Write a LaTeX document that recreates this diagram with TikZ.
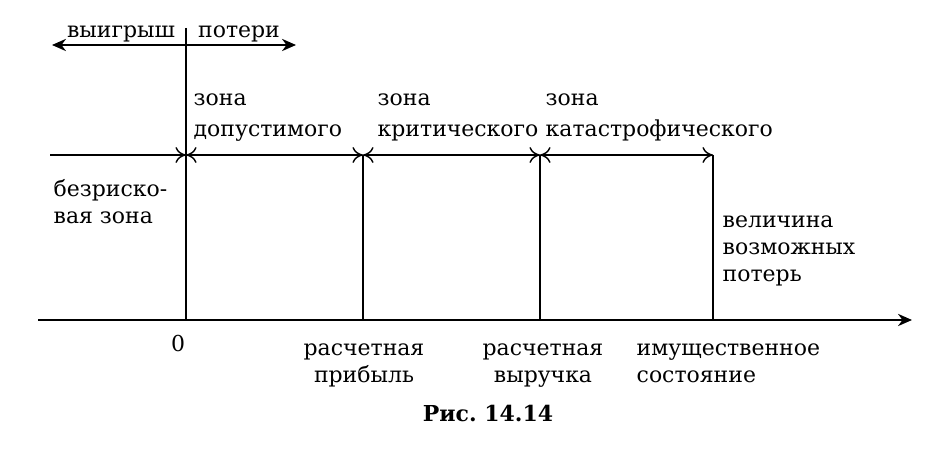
\documentclass[tikz,border=0pt]{standalone}
\usepackage{fontspec}
\setmainfont{DejaVu Serif}
\usetikzlibrary{arrows.meta}
\begin{document}
\begin{tikzpicture}[x=0.02cm,y=-0.02cm,line join=round,>={Stealth[length=8pt,width=7pt]},thick]
	\tikzset{lbl/.style={inner sep=0pt,align=left,font=\fontsize{12.5}{18.2}\selectfont},
		tight/.style={font=\fontsize{12.5}{15.6}\selectfont},
		barb/.tip={To[length=6pt,width=9pt]},
		zone/.style={barb-barb}}
	\useasboundingbox (0,0) rectangle (948,452);
	% points
	\coordinate (wl) at (52,45); \coordinate (wr) at (296,45);
	\coordinate (top) at (186,28);
	\coordinate (m0) at (50,155);
	\foreach \n/\x in {a/186,b/363,c/540,d/713}
	{\coordinate (m\n) at (\x,155); \coordinate (x\n) at (\x,320);}
	\coordinate (ax0) at (38,320); \coordinate (ax1) at (912,320);
	% lines
	\draw[<->] (wl)--(wr);
	\draw (top)--(xa) (mb)--(xb) (mc)--(xc) (md)--(xd);
	\draw[-barb] (m0)--(ma);
	\draw[zone] (ma)--(mb); \draw[zone] (mb)--(mc); \draw[zone] (mc)--(md);
	\draw[->] (ax0)--(ax1);
	% texts
	\node[lbl,anchor=base] (win) at (121,38) {выигрыш};
	\node[lbl,anchor=base] (loss) at (239,38) {потери};
	\node[lbl,anchor=base west] (zdop) at (193,137) {зона\\допустимого};
	\node[lbl,anchor=base west] (zkrit) at (377,137) {зона\\критического};
	\node[lbl,anchor=base west] (zkat) at (545,137) {зона\\катастрофического};
	\node[lbl,tight,anchor=base west] (bezr) at (53,224) {безриско-\\вая зона};
	\node[lbl,tight,anchor=base west] (vel) at (722,282) {величина\\возможных\\потерь};
	\node[lbl,anchor=base] (zero) at (178,352) {0};
	\node[lbl,align=center,anchor=base,font=\fontsize{12.5}{15.6}\selectfont] (prib) at (364,383) {расчетная\\прибыль};
	\node[lbl,align=center,anchor=base,font=\fontsize{12.5}{15.6}\selectfont] (vyr) at (543,383) {расчетная\\выручка};
	\node[lbl,tight,anchor=base west] (imu) at (636,383) {имущественное\\состояние};
	\node[lbl,anchor=base,font=\fontsize{12.5}{15}\selectfont\bfseries] (cap) at (488,422) {Рис.\ 14.14};
\end{tikzpicture}
\end{document}
